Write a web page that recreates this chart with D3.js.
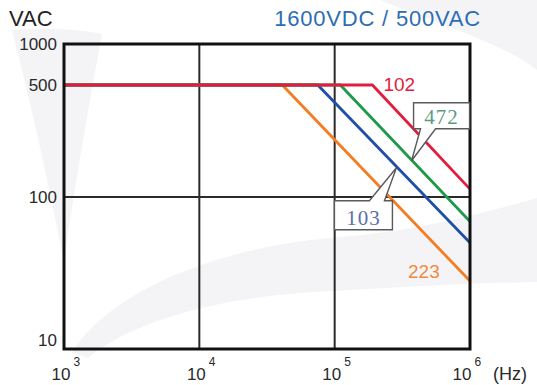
<!DOCTYPE html>
<html>
<head>
<meta charset="utf-8">
<script src="https://cdn.jsdelivr.net/npm/d3@7"></script>
<style>
  html, body { margin: 0; padding: 0; background: #fff; }
  svg { display: block; font-family: "Liberation Sans", Arial, Helvetica, sans-serif; }
</style>
</head>
<body>
<svg id="chart" width="537" height="385"></svg>
<script>
// Capacitor codes and their derating curves: flat at the rated AC voltage up to a
// break frequency, then falling until 1 MHz.
const codes = ["223", "103", "472", "102"];
const breakFreq = [41000, 75000, 110000, 190000];   // Hz where the curve leaves 500 VAC
const endVolt = [28, 50, 69, 112];                   // VAC at 1 MHz
const ratedVolt = 500;
const lineColors = ["#f47c22", "#1f4fa6", "#1e9a4a", "#e21c3c"];

const yTicks = [10, 100, 500, 1000];
const xTicks = [1e3, 1e4, 1e5, 1e6];
const xExponents = ["3", "4", "5", "6"];
const gridFreq = [1e4, 1e5];
const gridVolt = [100];

const title = "1600VDC / 500VAC";
const yTitle = "VAC";
const xUnit = "(Hz)";

const svg = d3.select("#chart");
const plotL = 64, plotR = 470, plotT = 44, plotB = 349;
const SANS = '"Liberation Sans", Arial, Helvetica, sans-serif';
const SERIF = '"Liberation Serif", "Times New Roman", serif';

const x = d3.scaleLog().domain([1e3, 1e6]).range([plotL, plotR]);
const y = d3.scaleLog().domain([10, 100, 500, 1000]).range([plotB, 197, 85, plotT]);

// faint background emblem
const bg = svg.append("g").attr("fill", "#f4f4f7");
bg.append("path").attr("d", "M12 30 C40 28 75 28 102 34 C88 110 74 190 64 262 C48 180 30 100 12 30 Z");
bg.append("path").attr("d", "M72 352 C110 292 215 248 330 238 C420 231 480 214 537 198 L537 282 C470 283 380 288 300 293 C205 300 125 326 88 358 Z");
bg.append("path").attr("d", "M380 0 L537 0 L537 70 C505 45 450 28 380 0 Z");

// grid lines
const grid = svg.append("g").attr("stroke", "#2a2a2a").attr("stroke-width", 2);
grid.selectAll(".vx").data(gridFreq).join("line")
  .attr("x1", d => x(d)).attr("x2", d => x(d))
  .attr("y1", plotT).attr("y2", plotB);
grid.selectAll(".hy").data(gridVolt).join("line")
  .attr("x1", plotL).attr("x2", plotR)
  .attr("y1", d => y(d)).attr("y2", d => y(d));

// derating curves
const curves = codes.map((c, i) => ({
  code: c,
  color: lineColors[i],
  pts: [[1e3, ratedVolt], [breakFreq[i], ratedVolt], [1e6, endVolt[i]]]
}));
const line = d3.line().x(d => x(d[0])).y(d => y(d[1]));
svg.append("g").selectAll("path").data(curves).join("path")
  .attr("d", d => line(d.pts))
  .attr("fill", "none")
  .attr("stroke", d => d.color)
  .attr("stroke-width", 2.8)
  .attr("stroke-linejoin", "miter");

// frame
svg.append("rect")
  .attr("x", plotL).attr("y", plotT)
  .attr("width", plotR - plotL).attr("height", plotB - plotT)
  .attr("fill", "none").attr("stroke", "#111").attr("stroke-width", 3);

// y axis
const yAxis = svg.append("g").attr("transform", `translate(${plotL},0)`)
  .call(d3.axisLeft(y).tickValues(yTicks).tickFormat(d3.format("d")).tickSize(0).tickPadding(7));
yAxis.select(".domain").remove();
yAxis.attr("font-family", null).attr("font-size", null);
yAxis.selectAll("text").style("font-size", "17px").style("font-family", SANS).attr("fill", "#2a2a2a")
  .attr("dy", d => d === 10 ? "-0.2em" : "0.34em");

// x axis with powers of ten
const xAxis = svg.append("g").attr("transform", `translate(0,${plotB})`)
  .call(d3.axisBottom(x).tickValues(xTicks).tickFormat(() => "").tickSize(0));
xAxis.select(".domain").remove();
xAxis.attr("font-family", null).attr("font-size", null);
xAxis.selectAll(".tick").each(function (d, i) {
  const g = d3.select(this);
  g.select("text").remove();
  const shift = i === xTicks.length - 1 ? -5 : 0;
  g.append("text").text("10")
    .attr("x", 6 + shift).attr("y", 31)
    .attr("text-anchor", "end").style("font-size", "17px").attr("fill", "#2a2a2a");
  g.append("text").text(xExponents[i])
    .attr("x", 9 + shift).attr("y", 17)
    .attr("text-anchor", "start").style("font-size", "12px").attr("fill", "#2a2a2a");
});
svg.append("text").text(xUnit)
  .attr("x", x(1e6) + 23).attr("y", plotB + 31)
  .style("font-size", "18px").attr("fill", "#2a2a2a");

// titles
svg.append("text").text(yTitle)
  .attr("x", 9).attr("y", 26)
  .style("font-size", "22px").attr("fill", "#222");
svg.append("text").text(title)
  .attr("x", 481).attr("y", 26).attr("text-anchor", "end")
  .style("font-size", "22px").style("letter-spacing", "0.8px").attr("fill", "#2d6db3");

// value on a curve at frequency f (straight in log-log space)
function voltAt(i, f) {
  const lf = Math.log10(f), l0 = Math.log10(breakFreq[i]), l1 = 6;
  if (lf <= l0) return ratedVolt;
  const v0 = Math.log10(ratedVolt), v1 = Math.log10(endVolt[i]);
  return Math.pow(10, v0 + (v1 - v0) * (lf - l0) / (l1 - l0));
}

// plain labels
const idx = c => codes.indexOf(c);
svg.append("text").text("102")
  .attr("x", x(breakFreq[idx("102")]) + 11).attr("y", y(ratedVolt) + 6)
  .style("font-size", "19px").attr("fill", "#e21c3c");
svg.append("text").text("223")
  .attr("x", x(1e6) - 62).attr("y", y(endVolt[idx("223")]) - 3)
  .style("font-size", "19px").attr("fill", "#f08a40");

// callout boxes pointing at a curve
function callout(code, freq, box, base, color) {
  const i = idx(code);
  const tx = x(freq), ty = y(voltAt(i, freq));
  const bx = tx + box.dx, by = ty + box.dy, bw = box.w, bh = box.h;
  const g = svg.append("g");
  let pts;
  if (box.dy < 0) {
    // tail leaves the bottom edge
    const yb = by + bh;
    pts = [[bx, by], [bx + bw, by], [bx + bw, yb], [tx + base[1], yb], [tx, ty], [tx + base[0], yb], [bx, yb]];
  } else {
    // tail leaves the top edge
    pts = [[bx, by], [tx + base[0], by], [tx, ty], [tx + base[1], by], [bx + bw, by], [bx + bw, by + bh], [bx, by + bh]];
  }
  g.append("path")
    .attr("d", d3.line()(pts) + "Z")
    .attr("fill", "#fff").attr("stroke", "#5a5a5a").attr("stroke-width", 1.4)
    .attr("stroke-linejoin", "miter");
  g.append("text").text(code)
    .attr("x", bx + bw / 2).attr("y", by + bh - 5)
    .attr("text-anchor", "middle")
    .style("font-family", SERIF).style("font-size", "21px").style("letter-spacing", "1px")
    .attr("fill", color);
}
callout("472", 370000, { dx: 2, dy: -58, w: 56, h: 26 }, [9, 24], "#5a9c84");
callout("103", 286000, { dx: -62, dy: 33, w: 58, h: 29 }, [-27, -12], "#5b6fa8");
</script>
</body>
</html>
